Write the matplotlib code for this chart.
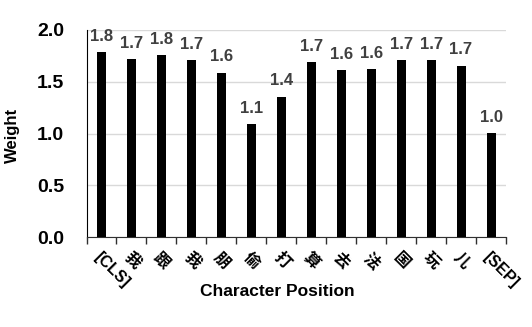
import matplotlib
matplotlib.use("Agg")
import matplotlib.pyplot as plt
import numpy as np

categories = ["[CLS]", "我", "跟", "我", "朋", "偷", "打", "算", "去", "法", "国", "玩", "儿", "[SEP]"]
weights = [1.786, 1.72, 1.757, 1.709, 1.589, 1.09, 1.357, 1.69, 1.615, 1.62, 1.709, 1.709, 1.657, 1.003]
yticks = [0.0, 0.5, 1.0, 1.5, 2.0]

plt.rcParams['font.family'] = ['Liberation Sans', 'Noto Sans CJK SC', 'DejaVu Sans']
plt.rcParams['font.weight'] = 'bold'

fig = plt.figure(figsize=(5.32, 3.27), dpi=100)
ax = fig.add_axes([86.5/532, 1 - 237/327, (506 - 86.5)/532, (237 - 30)/327])

x = np.arange(len(categories))
ax.bar(x, weights, width=0.3, color='black', zorder=3)
for xi, w in zip(x, weights):
    ax.annotate(f"{w:.1f}", (xi, w), xytext=(0, 6), textcoords='offset points',
                ha='center', va='bottom', fontsize=12, fontweight='bold', color='#404040')

ax.set_xlim(-0.5, len(categories) - 0.5)
ax.set_ylim(0, 2.0)
ax.set_yticks(yticks)
ax.set_yticklabels([f"{v:.1f}" for v in yticks], fontsize=14, fontweight='bold')
ax.tick_params(axis='y', length=0, pad=16)
ax.grid(axis='y', color='#d9d9d9', linewidth=1, zorder=0)

ax.set_xticks(x)
ax.set_xticklabels(categories, rotation=-45, ha='left', rotation_mode='anchor', fontsize=11.5)
ax.tick_params(axis='x', which='major', length=0, pad=9)
ax.set_xticks(np.arange(-0.5, len(categories), 1.0), minor=True)
ax.tick_params(axis='x', which='minor', length=5, width=1, color='#303030')

for s in ['top', 'right']:
    ax.spines[s].set_visible(False)
ax.spines['left'].set_color('black')
ax.spines['bottom'].set_color('#303030')

ax.set_xlabel("Character Position", fontsize=12.5, fontweight='bold', va='center')
ax.xaxis.set_label_coords((277 - 86.5) / 419.5, (237 - 291) / 207)
ax.set_ylabel("Weight", fontsize=12, fontweight='bold', va='center')
ax.yaxis.set_label_coords((12.5 - 86.5) / 419.5, (237 - 135) / 207)

fig.savefig("out.png", dpi=100)
